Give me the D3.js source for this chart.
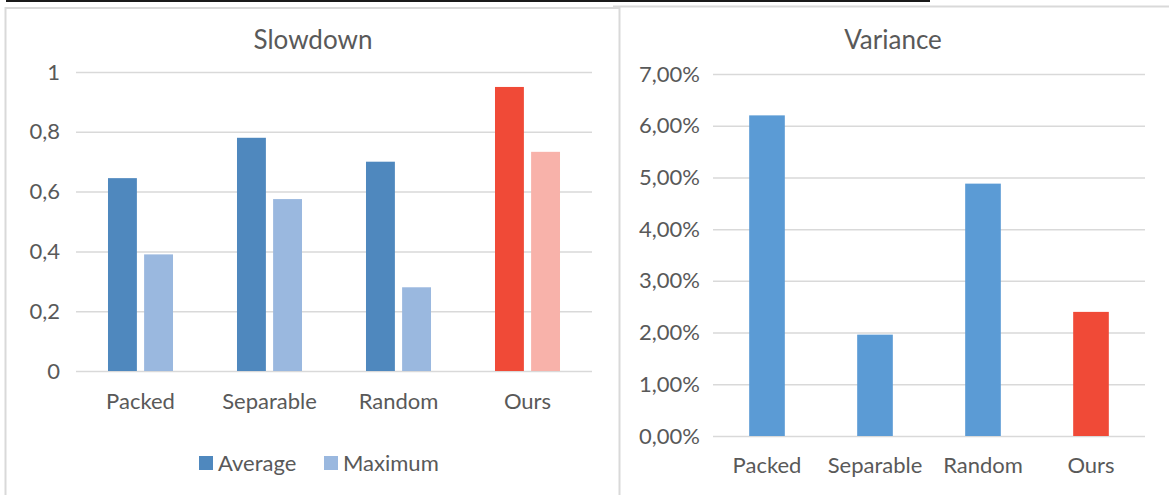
<!DOCTYPE html>
<html>
<head>
<meta charset="utf-8">
<script src="https://cdn.jsdelivr.net/npm/d3@7"></script>
<style>
  body { margin: 0; background: #ffffff; }
  svg text { font-family: Lato, "Open Sans", sans-serif; fill: #595959; }
  .grid line { stroke: #d9d9d9; stroke-width: 1.5; }
</style>
</head>
<body>
<div id="chart"></div>
<script>
// chart values
var categories = ["Packed", "Separable", "Random", "Ours"];
var seriesNames = ["Average", "Maximum"];
var slowdownAverage = [0.645, 0.78, 0.70, 0.95];
var slowdownMaximum = [0.39, 0.575, 0.28, 0.733];
var slowdownTicks = [0, 0.2, 0.4, 0.6, 0.8, 1];
var variance = [0.062, 0.0196, 0.0488, 0.024];
var varianceTicks = [0, 0.01, 0.02, 0.03, 0.04, 0.05, 0.06, 0.07];

var width = 1169
var height = 495
var labelSize = "22px"
var titleSize = "26px"

// comma as decimal sign, like the original spreadsheet
var locale = d3.formatLocale({decimal: ",", thousands: ".", grouping: [3], currency: ["", ""], percent: "%"});

var avgColor = {normal: "#4f88be", ours: "#f04a37"};
var maxColor = {normal: "#9ab8df", ours: "#f8b2aa"};
var varColor = {normal: "#5b9bd5", ours: "#f04a37"};

var svg = d3.select("#chart")
            .append("svg")
            .attr("width", width)
            .attr("height", height);

// panel frames + the cut off rule from the page above
svg.append("rect")
   .attr("x", 6).attr("y", 0).attr("width", 924).attr("height", 2)
   .style("fill", "#1a1a1a");
svg.append("path")
   .attr("d", "M5.5,495 V8 H619.5 V495")
   .style("fill", "none").style("stroke", "#d9d9d9").style("stroke-width", 2);
svg.append("path")
   .attr("d", "M613,6.5 H1169")
   .style("fill", "none").style("stroke", "#d9d9d9").style("stroke-width", 2);

function makeSlowdown () {
    var x = d3.scaleBand()
              .domain(categories)
              .range([76, 592])
              .paddingInner(0.496)
              .paddingOuter(0.248);

    var xs = d3.scaleBand()
               .domain(seriesNames)
               .range([0, x.bandwidth()])
               .paddingInner(0.2);

    var y = d3.scaleLinear()
              .domain([0, 1])
              .range([371, 72]);

    var g = svg.append("g").attr("class", "slowdown");

    g.append("text")
     .attr("x", 313).attr("y", 49)
     .attr("text-anchor", "middle")
     .style("font-size", titleSize)
     .text("Slowdown");

    // gridlines and tick labels
    var yAxis = g.append("g")
                 .attr("class", "grid")
                 .attr("transform", "translate(76,0)")
                 .call(d3.axisLeft(y)
                         .tickValues(slowdownTicks)
                         .tickSize(-516)
                         .tickPadding(16)
                         .tickFormat(locale.format(".1~f")));
    yAxis.select(".domain").remove();
    yAxis.selectAll("text")
         .style("font-size", labelSize)
         .style("fill", "#595959");

    var rows = categories.map(function(c, i) {
        return {cat: c, values: [slowdownAverage[i], slowdownMaximum[i]]};
    });

    var groups = g.selectAll(".group")
                  .data(rows)
                  .enter().append("g")
                  .attr("class", "group")
                  .attr("transform", function(d) { return "translate(" + x(d.cat) + ",0)"; });

    groups.selectAll("rect")
          .data(function(d) {
              return seriesNames.map(function(s, k) {
                  return {cat: d.cat, series: s, value: d.values[k]};
              });
          })
          .enter().append("rect")
          .attr("x", function(d) { return xs(d.series); })
          .attr("width", xs.bandwidth())
          .attr("y", function(d) { return y(d.value); })
          .attr("height", function(d) { return y(0) - y(d.value); })
          .style("fill", function(d) {
              var pal = d.series == "Average" ? avgColor : maxColor;
              return d.cat == "Ours" ? pal.ours : pal.normal;
          });

    var xAxis = g.append("g")
                 .attr("transform", "translate(0,371)")
                 .call(d3.axisBottom(x).tickSize(0).tickPadding(22));
    xAxis.select(".domain").remove();
    xAxis.selectAll("text")
         .style("font-size", labelSize)
         .style("fill", "#595959");

    // legend
    var legendX = [199, 324];
    var legend = g.selectAll(".legend")
                  .data(seriesNames)
                  .enter().append("g")
                  .attr("class", "legend")
                  .attr("transform", function(d, i) { return "translate(" + legendX[i] + ",456)"; });
    legend.append("rect")
          .attr("width", 14).attr("height", 14)
          .style("fill", function(d) { return d == "Average" ? avgColor.normal : maxColor.normal; });
    legend.append("text")
          .attr("x", 19).attr("y", 15)
          .style("font-size", labelSize)
          .text(function(d) { return d; });
}

function makeVariance () {
    var x = d3.scaleBand()
              .domain(categories)
              .range([713, 1145])
              .paddingInner(0.67)
              .paddingOuter(0.335);

    var y = d3.scaleLinear()
              .domain([0, 0.07])
              .range([436, 74]);

    var g = svg.append("g").attr("class", "variance");

    g.append("text")
     .attr("x", 893).attr("y", 49)
     .attr("text-anchor", "middle")
     .style("font-size", titleSize)
     .text("Variance");

    var yAxis = g.append("g")
                 .attr("class", "grid")
                 .attr("transform", "translate(713,0)")
                 .call(d3.axisLeft(y)
                         .tickValues(varianceTicks)
                         .tickSize(-432)
                         .tickPadding(13)
                         .tickFormat(locale.format(".2%")));
    yAxis.select(".domain").remove();
    yAxis.selectAll("text")
         .style("font-size", labelSize)
         .style("fill", "#595959");

    g.selectAll(".bar")
     .data(categories)
     .enter().append("rect")
     .attr("class", "bar")
     .attr("x", function(d) { return x(d); })
     .attr("width", x.bandwidth())
     .attr("y", function(d, i) { return y(variance[i]); })
     .attr("height", function(d, i) { return y(0) - y(variance[i]); })
     .style("fill", function(d) { return d == "Ours" ? varColor.ours : varColor.normal; });

    var xAxis = g.append("g")
                 .attr("transform", "translate(0,436)")
                 .call(d3.axisBottom(x).tickSize(0).tickPadding(21));
    xAxis.select(".domain").remove();
    xAxis.selectAll("text")
         .style("font-size", labelSize)
         .style("fill", "#595959");
}

makeSlowdown();
makeVariance();
</script>
</body>
</html>
